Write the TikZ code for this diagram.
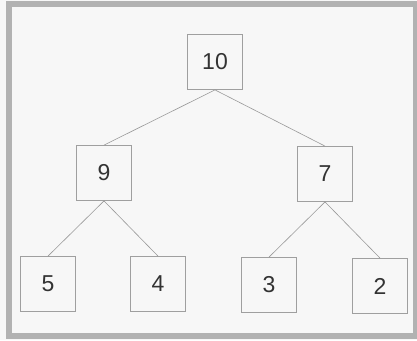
\documentclass[tikz,border=0pt]{standalone}
\usepackage{fontspec}
\setmainfont{Liberation Sans}
\begin{document}
\begin{tikzpicture}[x=1pt,y=-1pt,
  box/.style={draw=gray!75,line width=0.8pt,minimum size=55pt,inner sep=0pt,
    text=black!80,font=\fontsize{23}{23}\selectfont},
  edge/.style={draw=gray!80,line width=0.6pt}]
\useasboundingbox(0,0)rectangle(417,340);
\fill[black!3](0,0)rectangle(417,340);
\draw[gray!60,line width=6pt](9,4)rectangle(416,336);
\node[box](n10) at (215,62){10};
\node[box](n9) at (104,173){9};
\node[box](n7) at (325,174){7};
\node[box](n5) at (48,284){5};
\node[box](n4) at (158,284){4};
\node[box](n3) at (269,285){3};
\node[box](n2) at (380,286){2};
\draw[edge](n10.south)--(n9.north);
\draw[edge](n10.south)--(n7.north);
\draw[edge](n9.south)--(n5.north);
\draw[edge](n9.south)--(n4.north);
\draw[edge](n7.south)--(n3.north);
\draw[edge](n7.south)--(n2.north);
\end{tikzpicture}
\end{document}
